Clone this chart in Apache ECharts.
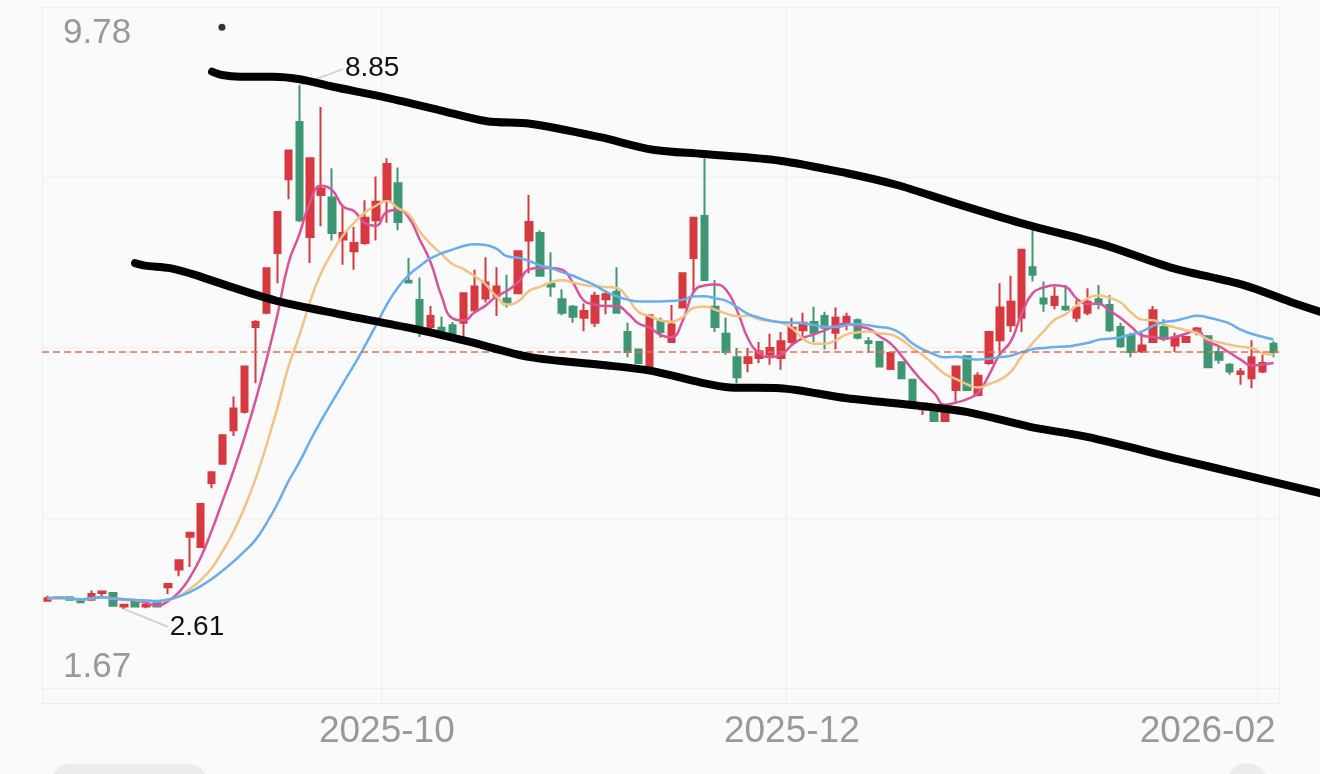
<!DOCTYPE html>
<html>
<head>
<meta charset="utf-8">
<script src="https://cdn.jsdelivr.net/npm/echarts@6.0.0/dist/echarts.min.js"></script>
<style>
  html, body { margin: 0; padding: 0; background: #fafafa; }
  #main { width: 1320px; height: 774px; }
</style>
</head>
<body>
<div id="main"></div>
<script>
// trading days
const dates = [
  '2025-08-19','2025-08-20','2025-08-21','2025-08-22','2025-08-25','2025-08-26','2025-08-27','2025-08-28','2025-08-29',
  '2025-09-01','2025-09-02','2025-09-03','2025-09-04','2025-09-05','2025-09-08','2025-09-09','2025-09-10','2025-09-11',
  '2025-09-12','2025-09-15','2025-09-16','2025-09-17','2025-09-18','2025-09-19','2025-09-22','2025-09-23','2025-09-24',
  '2025-09-25','2025-09-26','2025-09-29','2025-09-30',
  '2025-10-09','2025-10-10','2025-10-13','2025-10-14','2025-10-15','2025-10-16','2025-10-17','2025-10-20','2025-10-21',
  '2025-10-22','2025-10-23','2025-10-24','2025-10-27','2025-10-28','2025-10-29','2025-10-30','2025-10-31',
  '2025-11-03','2025-11-04','2025-11-05','2025-11-06','2025-11-07','2025-11-10','2025-11-11','2025-11-12','2025-11-13',
  '2025-11-14','2025-11-17','2025-11-18','2025-11-19','2025-11-20','2025-11-21','2025-11-24','2025-11-25','2025-11-26',
  '2025-11-27','2025-11-28',
  '2025-12-01','2025-12-02','2025-12-03','2025-12-04','2025-12-05','2025-12-08','2025-12-09','2025-12-10','2025-12-11',
  '2025-12-12','2025-12-15','2025-12-16','2025-12-17','2025-12-18','2025-12-19','2025-12-22','2025-12-23','2025-12-24',
  '2025-12-25','2025-12-26','2025-12-29','2025-12-30','2025-12-31',
  '2026-01-05','2026-01-06','2026-01-07','2026-01-08','2026-01-09','2026-01-12','2026-01-13','2026-01-14','2026-01-15',
  '2026-01-16','2026-01-19','2026-01-20','2026-01-21','2026-01-22','2026-01-23','2026-01-26','2026-01-27','2026-01-28',
  '2026-01-29','2026-01-30',
  '2026-02-02','2026-02-03'
];

// [open, close, low, high]
const candles = [
  [2.71,2.74,2.70,2.77],[2.74,2.75,2.73,2.76],[2.75,2.72,2.71,2.76],[2.72,2.69,2.68,2.73],[2.72,2.79,2.71,2.83],
  [2.80,2.82,2.76,2.82],[2.80,2.65,2.64,2.81],[2.64,2.66,2.61,2.67],[2.71,2.64,2.63,2.72],[2.64,2.66,2.62,2.68],
  [2.70,2.64,2.63,2.71],[2.87,2.91,2.79,2.92],[3.08,3.19,3.00,3.20],[3.47,3.52,3.11,3.53],[3.35,3.86,3.34,3.87],
  [4.11,4.24,4.05,4.25],[4.34,4.68,4.33,4.69],[4.74,5.00,4.67,5.14],[4.96,5.50,4.94,5.51],[5.97,6.03,5.30,6.05],
  [6.14,6.67,6.12,6.68],[6.85,7.34,6.49,7.35],[7.73,8.07,7.49,8.08],[8.41,7.24,7.22,8.85],[7.04,7.98,6.73,7.99],
  [7.54,7.62,7.17,8.59],[7.51,7.09,7.00,7.86],[7.01,7.09,6.71,7.40],[6.87,6.97,6.65,7.16],[6.97,7.27,6.95,7.48],
  [7.24,7.46,7.00,7.76],[7.48,7.91,7.21,7.98],[7.68,7.22,7.12,7.87],[6.52,6.50,6.49,6.79],[6.29,5.97,5.85,6.56],
  [5.97,6.10,5.93,6.22],[5.96,5.90,5.85,6.09],[5.99,5.89,5.85,6.03],[6.02,6.37,5.85,6.38],[6.17,6.45,6.14,6.65],
  [6.31,6.50,6.26,6.80],[6.34,6.45,6.10,6.68],[6.31,6.24,6.20,6.59],[6.37,6.87,6.36,6.88],[7.00,7.22,6.61,7.54],
  [7.09,6.58,6.57,7.12],[6.48,6.45,6.33,6.86],[6.30,6.14,6.11,6.42],[6.21,6.09,6.02,6.23],[6.08,6.16,5.92,6.25],
  [6.02,6.34,5.97,6.39],[6.30,6.36,6.12,6.40],[6.39,6.14,6.13,6.68],[5.91,5.67,5.61,6.02],[5.70,5.54,5.53,5.71],
  [5.49,6.11,5.48,6.12],[6.04,5.91,5.84,6.08],[5.79,6.00,5.78,6.23],[6.20,6.61,6.19,6.62],[6.79,7.27,6.39,7.28],
  [7.29,6.53,6.52,7.98],[6.21,5.97,5.91,6.53],[5.89,5.67,5.64,6.08],[5.61,5.37,5.30,5.72],[5.54,5.61,5.43,5.72],
  [5.60,5.68,5.54,5.79],[5.64,5.72,5.52,5.89],[5.60,5.80,5.46,5.91],[5.79,5.96,5.77,6.08],[5.93,6.02,5.85,6.14],
  [6.03,5.90,5.79,6.21],[6.10,5.96,5.70,6.15],[5.90,6.08,5.70,6.20],[6.02,6.09,5.93,6.14],[6.05,5.84,5.82,6.07],
  [5.80,5.78,5.66,5.85],[5.79,5.50,5.49,5.80],[5.47,5.66,5.46,5.67],[5.55,5.36,5.35,5.56],[5.34,5.02,5.01,5.35],
  [4.99,5.02,4.92,5.06],[5.04,4.85,4.84,5.05],[4.85,4.96,4.84,5.04],[5.22,5.50,5.08,5.51],[5.62,5.22,5.21,5.63],
  [5.16,5.39,5.14,5.43],[5.54,5.91,5.52,5.92],[5.81,6.20,5.66,6.49],[5.99,6.27,5.91,6.58],[6.08,6.89,5.91,6.90],
  [6.68,6.59,6.51,7.16],[6.31,6.25,6.15,6.51],[6.23,6.33,6.18,6.45],[6.21,6.18,6.16,6.47],[6.08,6.20,6.03,6.29],
  [6.14,6.27,6.11,6.43],[6.30,6.25,6.18,6.47],[6.23,5.93,5.91,6.35],[5.97,5.74,5.72,6.02],[5.87,5.67,5.61,5.90],
  [5.68,5.75,5.66,5.90],[5.79,6.17,5.78,6.22],[5.97,5.83,5.80,6.06],[5.75,5.84,5.67,5.90],[5.79,5.85,5.78,5.86],
  [5.91,5.95,5.87,5.97],[5.86,5.49,5.48,5.87],[5.67,5.58,5.53,5.73],[5.52,5.44,5.40,5.54],[5.41,5.44,5.28,5.48],
  [5.36,5.61,5.24,5.81],[5.44,5.54,5.42,5.64],[5.77,5.67,5.61,5.80]
];

// hand-drawn channel lines, [candle index, price]
const upperTrend = [
  [15.03,9.01],[15.94,8.97],[17.59,8.95],[20.6,8.95],[23.07,8.92],[26.08,8.83],[30.65,8.71],[35.86,8.55],
  [40.15,8.42],[44.08,8.39],[50.48,8.23],[55.32,8.08],[59.89,8.03],[66.92,7.95],[73.04,7.80],[77.61,7.66],
  [82.73,7.45],[88.85,7.21],[96.43,6.95],[102.55,6.68],[109.22,6.47],[113.51,6.27],[116.25,6.15]
];
const lowerTrend = [
  [8.0,6.73],[8.91,6.70],[11.19,6.67],[13.48,6.59],[16.68,6.45],[21.24,6.27],[26.72,6.12],[33.39,5.95],
  [38.33,5.80],[44.08,5.61],[50.48,5.52],[55.05,5.45],[59.61,5.31],[62.35,5.25],[66.92,5.24],[73.04,5.12],
  [79.71,5.03],[84.28,4.95],[89.76,4.78],[94.97,4.66],[103.46,4.39],[109.86,4.19],[116.25,3.99]
];
const penDot = [[15.94, 9.54]];

const yMin = 1.67;
const yMax = 9.78;
const tickMonths = ['2025-10', '2025-12', '2026-02'];

const N = dates.length;
const closes = candles.map(c => c[1]);

function calcMA(n) {
  return closes.map((_, i) => {
    const s = Math.max(0, i - n + 1);
    let sum = 0;
    for (let j = s; j <= i; j++) sum += closes[j];
    return +(sum / (i - s + 1)).toFixed(3);
  });
}

// first trading day of each labelled month
const labelIdx = tickMonths.map(m => dates.findIndex(d => d.slice(0, 7) === m));
const splitIdx = [0].concat(labelIdx);

let maxIdx = 0, minIdx = 0;
candles.forEach((c, i) => {
  if (c[3] > candles[maxIdx][3]) maxIdx = i;
  if (c[2] < candles[minIdx][2]) minIdx = i;
});
const maxHigh = candles[maxIdx][3];
const minLow = candles[minIdx][2];
const lastClose = closes[N - 1];

const FONT = "'Liberation Sans', Arial, sans-serif";
const W = 1320, GL = 42, GR = 41;
const plotW = W - GL - GR;
// full-width overlay grid for the pen strokes, same index scale as the candles
const penMin = -0.5 - GL * N / plotW;
const penMax = -0.5 + (W - GL) * N / plotW;

const xData = dates.map((d, i) => i === labelIdx[labelIdx.length - 1]
  ? { value: d, textStyle: { align: 'right', padding: [0, -13, 0, 0] } }
  : d);

const leaderLabel = (txt) => ({
  show: true, position: 'end', distance: 2, formatter: txt,
  color: '#111', fontSize: 28, fontFamily: FONT
});
const leaderLine = { color: '#d4d4d4', width: 2, type: 'solid' };

const option = {
  backgroundColor: '#fafafa',
  animation: false,
  grid: [
    { left: GL, right: GR, top: 7, bottom: 86 },
    { left: GL, right: GR, top: 7, bottom: 71 },
    { left: 0, right: 0, top: 7, bottom: 86 }
  ],
  xAxis: [
    { type: 'category', gridIndex: 0, data: dates, boundaryGap: true,
      axisLine: { show: false }, axisTick: { show: false }, axisLabel: { show: false }, splitLine: { show: false } },
    { type: 'value', gridIndex: 2, min: penMin, max: penMax, show: false, splitLine: { show: false } },
    { type: 'category', gridIndex: 1, data: xData, boundaryGap: true,
      axisLine: { show: true, lineStyle: { color: '#ececec', width: 1 } },
      axisTick: { show: false },
      axisLabel: {
        interval: (i) => labelIdx.includes(i),
        formatter: (v) => v.slice(0, 7),
        color: '#999', fontSize: 37, fontFamily: FONT, margin: 10
      },
      splitLine: { show: true, interval: (i) => splitIdx.includes(i), lineStyle: { color: '#efefef', width: 1 } }
    }
  ],
  yAxis: [
    { type: 'value', gridIndex: 0, position: 'left', min: yMin, max: yMax, scale: true,
      axisLine: { show: false }, axisTick: { show: false }, splitLine: { show: false },
      axisLabel: { customValues: [yMax], inside: true, margin: 21, verticalAlign: 'top', padding: [9, 0, 0, 0],
        color: '#999', fontSize: 35, fontFamily: FONT, formatter: (v) => v.toFixed(2) } },
    { type: 'value', gridIndex: 0, position: 'left', min: yMin, max: yMax, scale: true,
      axisLine: { show: false }, axisTick: { show: false }, splitLine: { show: false },
      axisLabel: { customValues: [yMin], inside: true, margin: 21, verticalAlign: 'bottom', padding: [0, 0, 3, 0],
        color: '#999', fontSize: 35, fontFamily: FONT, formatter: (v) => v.toFixed(2) } },
    { type: 'value', gridIndex: 0, position: 'left', min: 0, max: 4, interval: 1,
      axisLine: { show: false }, axisTick: { show: false }, axisLabel: { show: false },
      splitLine: { show: true, lineStyle: { color: '#efefef', width: 1 } } },
    { type: 'value', gridIndex: 1, min: 0, max: 1, show: false, splitLine: { show: false } },
    { type: 'value', gridIndex: 2, min: yMin, max: yMax, show: false, splitLine: { show: false } }
  ],
  graphic: [
    { type: 'rect', left: 50, top: 764, shape: { width: 158, height: 40, r: 20 }, style: { fill: '#ececec' }, silent: true },
    { type: 'circle', left: 1226, top: 763, shape: { r: 21 }, style: { fill: '#ececec' }, silent: true }
  ],
  series: [
    {
      name: 'K', type: 'candlestick', xAxisIndex: 0, yAxisIndex: 0,
      data: candles, barWidth: 7,
      itemStyle: { color: '#d6393f', color0: '#3e9672', borderColor: '#d6393f', borderColor0: '#3e9672', borderWidth: 2 },
      emphasis: { disabled: true },
      markLine: {
        silent: true, symbol: ['none', 'none'], animation: false,
        data: [
          { yAxis: lastClose, lineStyle: { color: '#e8704f', type: [7, 4], width: 1.5 }, label: { show: false } },
          [
            { coord: [maxIdx, maxHigh], lineStyle: leaderLine, label: leaderLabel(maxHigh.toFixed(2)) },
            { coord: [maxIdx + 4, maxHigh + 0.19], lineStyle: leaderLine, label: leaderLabel(maxHigh.toFixed(2)) }
          ],
          [
            { coord: [minIdx, minLow], lineStyle: leaderLine, label: leaderLabel(minLow.toFixed(2)) },
            { coord: [minIdx + 4, minLow - 0.21], lineStyle: leaderLine, label: leaderLabel(minLow.toFixed(2)) }
          ]
        ]
      }
    },
    { name: 'MA5', type: 'line', xAxisIndex: 0, yAxisIndex: 0, data: calcMA(5), smooth: true, showSymbol: false,
      lineStyle: { color: '#d9529b', width: 2.5 }, emphasis: { disabled: true } },
    { name: 'MA10', type: 'line', xAxisIndex: 0, yAxisIndex: 0, data: calcMA(10), smooth: true, showSymbol: false,
      lineStyle: { color: '#f1c283', width: 2.5 }, emphasis: { disabled: true } },
    { name: 'MA20', type: 'line', xAxisIndex: 0, yAxisIndex: 0, data: calcMA(20), smooth: true, showSymbol: false,
      lineStyle: { color: '#68adee', width: 2.5 }, emphasis: { disabled: true } },
    { name: 'upper', type: 'line', xAxisIndex: 1, yAxisIndex: 4, data: upperTrend, smooth: 0.3, showSymbol: false,
      z: 10, lineStyle: { color: '#000', width: 8, cap: 'round', join: 'round' }, emphasis: { disabled: true } },
    { name: 'lower', type: 'line', xAxisIndex: 1, yAxisIndex: 4, data: lowerTrend, smooth: 0.3, showSymbol: false,
      z: 10, lineStyle: { color: '#000', width: 8, cap: 'round', join: 'round' }, emphasis: { disabled: true } },
    { name: 'dot', type: 'scatter', xAxisIndex: 1, yAxisIndex: 4, data: penDot, symbolSize: 7, z: 10,
      itemStyle: { color: '#000' }, emphasis: { disabled: true } }
  ]
};

const chart = echarts.init(document.getElementById('main'));
chart.setOption(option);
</script>
</body>
</html>
